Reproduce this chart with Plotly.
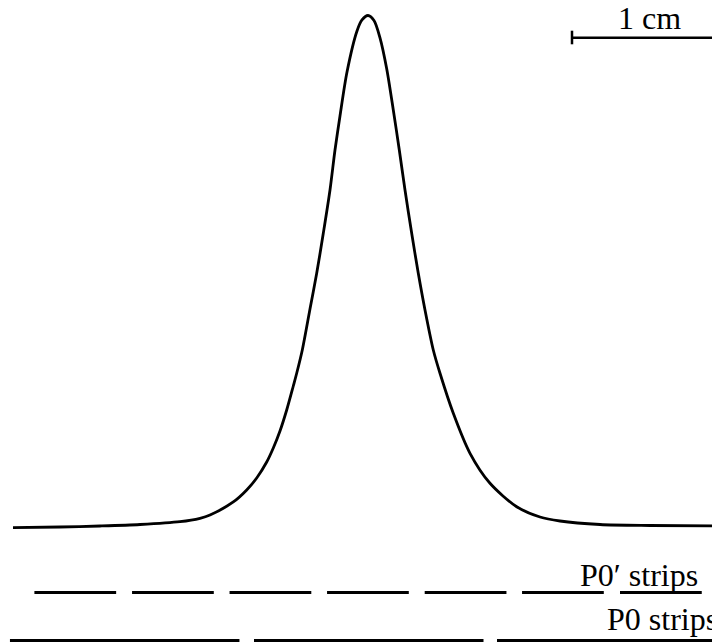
import plotly.graph_objects as go

# Induced charge profile: position (mm, relative to peak) and normalised charge
pos_mm = [-23.667, -20.533, -17.867, -15.2, -12.533, -11.2, -10.533, -8.98, -8.087, -7.42, -6.753,
          -6.313, -5.867, -5.42, -4.98, -4.753, -4.38, -3.867, -3.42, -2.98, -2.533, -2.2, -1.867,
          -1.4, -0.733, -0.4, 0.0, 0.4, 0.8, 1.247, 1.687, 2.087, 2.467, 2.913, 3.353, 3.8, 4.353,
          4.8, 5.687, 6.8, 8.133, 9.913, 11.467, 12.8, 15.467, 18.8, 23.467]
charge = [0.0045, 0.0058, 0.0078, 0.0107, 0.0161, 0.0227, 0.0291, 0.0544, 0.0777, 0.101, 0.132,
          0.1592, 0.1922, 0.233, 0.2796, 0.3043, 0.3495, 0.4291, 0.4984, 0.5761, 0.6602, 0.7379, 0.8039,
          0.8893, 0.9689, 0.9903, 0.999, 0.9893, 0.9557, 0.8957, 0.8155, 0.7379, 0.6602, 0.5761, 0.4984,
          0.4272, 0.3495, 0.3043, 0.2266, 0.1489, 0.0907, 0.0452, 0.0252, 0.0175, 0.0107, 0.0087, 0.0078]

# Strip left edges (mm) and widths (mm)
p0p_left = [-22.24, -15.73, -9.23, -2.73, 3.78, 10.27, 16.8]
p0p_width = 5.45
p0_left = [-23.87, -7.6, 8.6]
p0_width = 15.3

labels = ["P0\u2032 strips", "P0 strips"]
scale_label = "1 cm"
scale_start_mm = 13.6
scale_len_mm = 10.0

# the page body adds an 8px margin, so the figure is 712x634 placed at (8, 8)
OFF = 8
W, H = 712, 634
XR = [-24.0, 23.467]
YR = [-0.21748, 1.01359]


def py(p):  # page pixel row -> paper y
    return 1 - (p - OFF) / H


def px(p):  # page pixel column -> paper x
    return (p - OFF) / W


fig = go.Figure()
fig.add_trace(go.Scatter(x=pos_mm, y=charge, mode="lines",
                         line=dict(color="black", width=2.8, shape="spline", smoothing=0.8),
                         hoverinfo="skip", showlegend=False))

shapes = []
for l in p0p_left:
    shapes.append(dict(type="line", xref="x", yref="paper", x0=l, x1=l + p0p_width,
                       y0=py(592.5), y1=py(592.5), line=dict(color="black", width=3)))
for l in p0_left:
    shapes.append(dict(type="line", xref="x", yref="paper", x0=l, x1=l + p0_width,
                       y0=py(640.5), y1=py(640.5), line=dict(color="black", width=3)))
# scale bar
shapes.append(dict(type="line", xref="x", yref="paper", x0=scale_start_mm, x1=scale_start_mm + scale_len_mm,
                   y0=py(37.7), y1=py(37.7), line=dict(color="black", width=2.5)))
shapes.append(dict(type="line", xref="x", yref="paper", x0=scale_start_mm, x1=scale_start_mm,
                   y0=py(30.7), y1=py(44.3), line=dict(color="black", width=2.5)))

font = dict(family="Times New Roman, Liberation Serif, DejaVu Serif, serif", size=32, color="black")
annotations = [
    dict(text=scale_label, x=px(649), y=py(18), xref="paper", yref="paper",
         xanchor="center", yanchor="middle", showarrow=False, font=font, borderpad=0),
    dict(text=labels[0], x=px(699), y=py(575), xref="paper", yref="paper",
         xanchor="right", yanchor="middle", showarrow=False, font=font, borderpad=0),
    dict(text=labels[1], x=px(719), y=py(619), xref="paper", yref="paper",
         xanchor="right", yanchor="middle", showarrow=False, font=font, borderpad=0),
]

fig.update_layout(
    width=W, height=H, margin=dict(l=0, r=0, t=0, b=0),
    paper_bgcolor="white", plot_bgcolor="white",
    xaxis=dict(range=XR, visible=False, fixedrange=True),
    yaxis=dict(range=YR, visible=False, fixedrange=True),
    shapes=shapes, annotations=annotations, showlegend=False,
)
fig.write_html("out.html", config={"displayModeBar": False})
